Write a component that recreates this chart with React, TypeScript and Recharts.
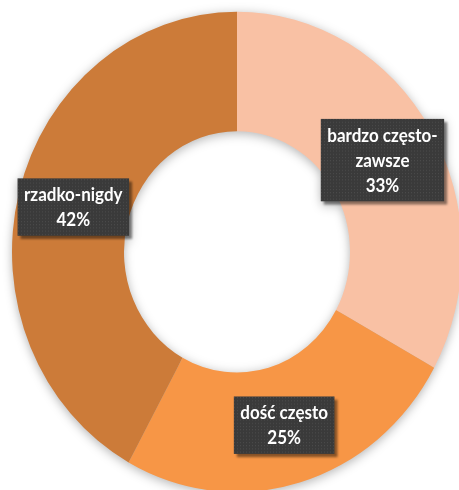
import React from "react";
import { PieChart, Pie, Cell } from "recharts";

const categories = ["bardzo często-zawsze", "dość często", "rzadko-nigdy"];
const shares = [33, 25, 42];
const sliceColors = ["#F9C1A4", "#F79646", "#CC7B39"];

const data = categories.map((name, i) => ({ name, value: shares[i] }));

// the reference is slightly taller than wide, so the chart is stretched vertically
const STRETCH = 490 / 459;
const FONT = "bold 17px Lato";

let ctx: CanvasRenderingContext2D | null = null;
const measure = (s: string) => {
  if (!ctx) ctx = document.createElement("canvas").getContext("2d");
  if (!ctx) return s.length * 8;
  ctx.font = FONT;
  return ctx.measureText(s).width;
};

const wrapName = (name: string) => {
  const i = name.indexOf("-");
  if (name.length > 14 && i > 0) return [name.slice(0, i + 1), name.slice(i + 1)];
  return [name];
};

const renderLabel = (props: any) => {
  const { cx, cy, midAngle, innerRadius, outerRadius, name, value } = props;
  const rad = Math.PI / 180;
  const r = (innerRadius + outerRadius) / 2;
  const x = cx + r * Math.cos(-midAngle * rad);
  const y = cy + r * Math.sin(-midAngle * rad);
  const lines = [...wrapName(name), `${value}%`];
  const lineH = 23.4;
  const w = Math.max(...lines.map(measure)) + 13;
  const h = lines.length * lineH + 7;
  const top = y - h / 2;
  return (
    <g>
      <rect
        x={x - w / 2 + 3}
        y={top + 3}
        width={w}
        height={h}
        fill="rgba(0,0,0,0.45)"
        filter="url(#boxBlur)"
      />
      <rect x={x - w / 2} y={top} width={w} height={h} fill="url(#dotTex)" />
      <text x={x} textAnchor="middle" fill="#ffffff" style={{ font: FONT }}>
        {lines.map((l, i) => (
          <tspan key={i} x={x} y={top + 3.5 + lineH * (i + 0.5)} dominantBaseline="central">
            {l}
          </tspan>
        ))}
      </text>
    </g>
  );
};

export default function App() {
  return (
    <div
      style={{
        position: "absolute",
        left: 0,
        top: 0,
        width: 459,
        height: 490,
        overflow: "hidden",
        background: "#ffffff",
      }}
    >
      <svg width={0} height={0} style={{ position: "absolute" }}>
        <defs>
          <pattern id="dotTex" width={3} height={3} patternUnits="userSpaceOnUse">
            <rect width={3} height={3} fill="#3a3a3a" />
            <rect width={1} height={1} fill="#4b4b4b" />
          </pattern>
          <filter id="boxBlur" x="-10%" y="-10%" width="120%" height="120%">
            <feGaussianBlur stdDeviation={1.2} />
          </filter>
        </defs>
      </svg>
      <div
        style={{
          transform: `scaleY(${STRETCH})`,
          transformOrigin: "0 0",
          filter: "drop-shadow(0px 2px 5px rgba(0,0,0,0.3))",
        }}
      >
        <PieChart width={459} height={459} margin={{ top: 0, right: 0, bottom: 0, left: 0 }}>
          <Pie
            data={data}
            dataKey="value"
            nameKey="name"
            cx={237}
            cy={236}
            innerRadius={113}
            outerRadius={225}
            startAngle={90}
            endAngle={-270}
            stroke="none"
            label={renderLabel}
            labelLine={false}
            isAnimationActive={false}
          >
            {data.map((d, i) => (
              <Cell key={d.name} fill={sliceColors[i]} />
            ))}
          </Pie>
        </PieChart>
      </div>
    </div>
  );
}
